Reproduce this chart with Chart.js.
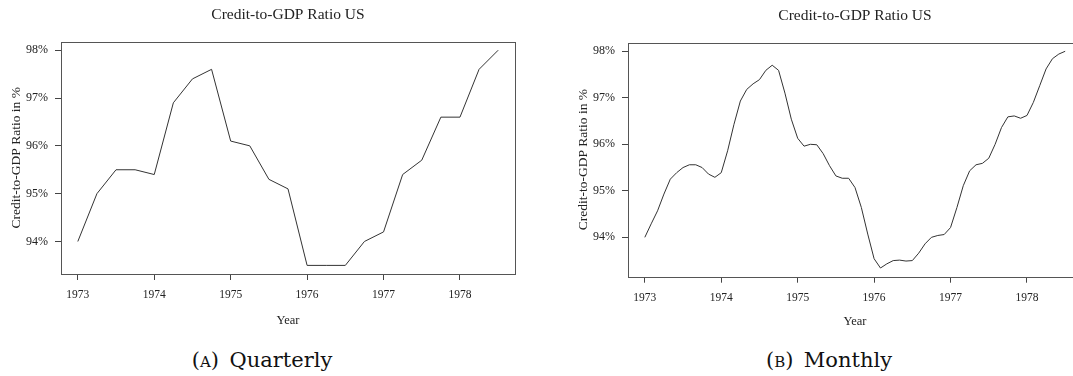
<!DOCTYPE html>
<html>
<head>
<meta charset="utf-8">
<script src="https://cdn.jsdelivr.net/npm/chart.js@4.4.0/dist/chart.umd.min.js"></script>
<style>
  html, body { margin: 0; padding: 0; background: #fff; overflow: hidden; }
  body { width: 1073px; height: 376px; position: relative; }
  .panel { position: absolute; width: 576px; height: 340px; }
  .caption {
    position: absolute; font-family: "DejaVu Serif", serif; font-size: 21px;
    line-height: 24px; color: #111; white-space: nowrap; transform: translateX(-50%);
  }
  .sc { font-variant: small-caps; }
</style>
</head>
<body>
<div class="panel" style="left:0;top:0"><canvas id="quarterly" width="576" height="340"></canvas></div>
<div class="panel" style="left:567px;top:1px"><canvas id="monthly" width="576" height="340"></canvas></div>
<div class="caption" style="left:262px;top:348px">(<span class="sc">a</span>)&ensp;Quarterly</div>
<div class="caption" style="left:829px;top:348px">(<span class="sc">b</span>)&ensp;Monthly</div>
<script>
// quarterly series, starting 1973 Q1
const quarterlyStart = 1973;
const quarterlyValues = [
  94.0, 95.0, 95.5, 95.5,
  95.4, 96.9, 97.4, 97.6,
  96.1, 96.0, 95.3, 95.1,
  93.5, 93.5, 93.5, 94.0,
  94.2, 95.4, 95.7, 96.6,
  96.6, 97.6, 98.0
];

// monthly series, starting Jan 1973
const monthlyStart = 1973;
const monthlyValues = [
  94.00, 94.29, 94.57, 94.93, 95.25, 95.39, 95.50, 95.56, 95.56, 95.50, 95.36, 95.29,
  95.39, 95.86, 96.43, 96.93, 97.18, 97.30, 97.39, 97.59, 97.70, 97.59, 97.10, 96.54,
  96.13, 95.96, 96.00, 95.99, 95.80, 95.54, 95.32, 95.27, 95.27, 95.07, 94.64, 94.07,
  93.54, 93.34, 93.43, 93.50, 93.51, 93.49, 93.50, 93.66, 93.86, 94.00, 94.04, 94.06,
  94.21, 94.64, 95.11, 95.43, 95.56, 95.59, 95.70, 96.00, 96.36, 96.59, 96.61, 96.56,
  96.62, 96.90, 97.26, 97.62, 97.84, 97.94, 98.00
];

const yearTicks = [1973, 1974, 1975, 1976, 1977, 1978];
const percentTicks = [94, 95, 96, 97, 98];

const serif = 'Liberation Serif';
const textColor = '#222';

// R-style frame around the plot region
const boxPlugin = {
  id: 'box',
  afterDraw(chart) {
    const a = chart.chartArea;
    const c = chart.ctx;
    c.save();
    c.strokeStyle = '#555';
    c.lineWidth = 1;
    c.strokeRect(Math.round(a.left) + 0.5, Math.round(a.top) + 0.5,
      Math.round(a.right - a.left), Math.round(a.bottom - a.top));
    c.restore();
  }
};

// pad the data range by 4% like R does
function padRange(lo, hi) {
  const d = (hi - lo) * 0.04;
  return [lo - d, hi + d];
}

function makeChart(id, values, start, perYear, xAxisHeight) {
  const points = values.map((v, i) => ({ x: start + i / perYear, y: v }));
  const xs = points.map(p => p.x);
  const [xMin, xMax] = padRange(Math.min(...xs), Math.max(...xs));
  const [yMin, yMax] = padRange(Math.min(...values), Math.max(...values));

  return new Chart(document.getElementById(id), {
    type: 'line',
    data: {
      datasets: [{
        data: points,
        borderColor: '#333',
        borderWidth: 1,
        pointRadius: 0,
        tension: 0,
        fill: false
      }]
    },
    options: {
      responsive: false,
      animation: false,
      devicePixelRatio: 1,
      plugins: {
        legend: { display: false },
        tooltip: { enabled: false },
        title: {
          display: true,
          text: 'Credit-to-GDP Ratio US',
          color: textColor,
          font: { family: serif, size: 15.5, weight: 'normal' },
          padding: { top: 6, bottom: 17 }
        }
      },
      scales: {
        x: {
          type: 'linear',
          min: xMin,
          max: xMax,
          afterBuildTicks: s => { s.ticks = yearTicks.map(v => ({ value: v })); },
          afterFit: s => { s.height = xAxisHeight; },
          ticks: {
            callback: v => String(v),
            color: textColor,
            font: { family: serif, size: 11.5 },
            padding: 8,
            maxRotation: 0,
            autoSkip: false
          },
          grid: { drawOnChartArea: false, tickLength: 6, tickColor: '#444' },
          border: { display: false },
          title: {
            display: true,
            text: 'Year',
            color: textColor,
            font: { family: serif, size: 12.5 },
            padding: { bottom: 11.5 }
          }
        },
        y: {
          min: yMin,
          max: yMax,
          afterBuildTicks: s => { s.ticks = percentTicks.map(v => ({ value: v })); },
          afterFit: s => { s.width = 61; },
          ticks: {
            callback: v => v + '%',
            color: textColor,
            font: { family: serif, size: 12 },
            padding: 7
          },
          grid: { drawOnChartArea: false, tickLength: 6, tickColor: '#444' },
          border: { display: false },
          title: {
            display: true,
            text: 'Credit-to-GDP Ratio in %',
            color: textColor,
            font: { family: serif, size: 13.5 },
            padding: { top: 8 }
          }
        },
        // empty right margin, same width as the left axis, so the title centres over the plot
        margin: {
          position: 'right',
          afterFit: s => { s.width = 61; },
          ticks: { display: false },
          grid: { display: false },
          border: { display: false }
        }
      }
    },
    plugins: [boxPlugin]
  });
}

makeChart('quarterly', quarterlyValues, quarterlyStart, 4, 66);
makeChart('monthly', monthlyValues, monthlyStart, 12, 64.3);
</script>
</body>
</html>
